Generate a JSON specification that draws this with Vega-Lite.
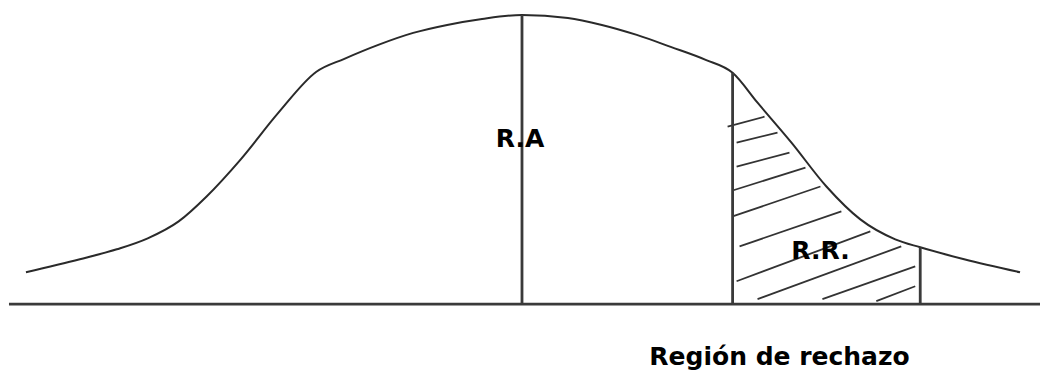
{
  "$schema": "https://vega.github.io/schema/vega-lite/v6.json",
  "width": 1042,
  "height": 370,
  "padding": 0,
  "autosize": {"type": "fit", "contains": "padding"},
  "background": "white",
  "config": {"view": {"stroke": null}},
  "datasets": {
    "curve": [
      {"x": 26, "h": 97}, {"x": 80, "h": 110}, {"x": 117, "h": 120}, {"x": 148, "h": 131},
      {"x": 179, "h": 148}, {"x": 207, "h": 173}, {"x": 241, "h": 210}, {"x": 279, "h": 257},
      {"x": 317, "h": 298}, {"x": 345, "h": 311}, {"x": 379, "h": 325}, {"x": 414, "h": 337},
      {"x": 448, "h": 345}, {"x": 483, "h": 351}, {"x": 523, "h": 355}, {"x": 569, "h": 352},
      {"x": 603, "h": 345}, {"x": 638, "h": 335}, {"x": 672, "h": 323}, {"x": 707, "h": 310},
      {"x": 734, "h": 297}, {"x": 759, "h": 267}, {"x": 793, "h": 227}, {"x": 828, "h": 183},
      {"x": 862, "h": 150}, {"x": 897, "h": 130}, {"x": 922, "h": 122}, {"x": 966, "h": 110},
      {"x": 1022, "h": 97}
    ],
    "frame": [
      {"x": 9, "h": 65, "x2": 1042, "h2": 65},
      {"x": 523, "h": 65, "x2": 523, "h2": 355},
      {"x": 734, "h": 65, "x2": 734, "h2": 297},
      {"x": 922, "h": 65, "x2": 922, "h2": 122}
    ],
    "hatch": [
      {"x": 729, "h": 243, "x2": 766, "h2": 253},
      {"x": 738, "h": 227, "x2": 779, "h2": 237},
      {"x": 738, "h": 203, "x2": 791, "h2": 217},
      {"x": 734, "h": 179, "x2": 807, "h2": 202},
      {"x": 734, "h": 153, "x2": 822, "h2": 183},
      {"x": 741, "h": 123, "x2": 843, "h2": 158},
      {"x": 738, "h": 88, "x2": 872, "h2": 138},
      {"x": 759, "h": 70, "x2": 903, "h2": 123},
      {"x": 824, "h": 70, "x2": 917, "h2": 103},
      {"x": 878, "h": 68, "x2": 917, "h2": 83}
    ],
    "labels": [
      {"x": 521, "h": 223, "text": "R.A", "size": "a"},
      {"x": 822, "h": 110, "text": "R.R.", "size": "b"},
      {"x": 781, "h": 4, "text": "Región de rechazo", "size": "c"}
    ]
  },
  "layer": [
    {
      "data": {"name": "hatch"},
      "mark": {"type": "rule", "color": "#333333", "strokeWidth": 1.8},
      "encoding": {
        "x": {"field": "x", "type": "quantitative", "scale": {"domain": [0, 1042], "nice": false, "zero": false}, "axis": null},
        "y": {"field": "h", "type": "quantitative", "scale": {"domain": [0, 370], "nice": false, "zero": false}, "axis": null},
        "x2": {"field": "x2"},
        "y2": {"field": "h2"}
      }
    },
    {
      "data": {"name": "curve"},
      "mark": {"type": "line", "color": "#2a2a2a", "strokeWidth": 2, "interpolate": "monotone"},
      "encoding": {
        "x": {"field": "x", "type": "quantitative", "scale": {"domain": [0, 1042], "nice": false, "zero": false}, "axis": null},
        "y": {"field": "h", "type": "quantitative", "scale": {"domain": [0, 370], "nice": false, "zero": false}, "axis": null}
      }
    },
    {
      "data": {"name": "frame"},
      "mark": {"type": "rule", "color": "#3a3a3a", "strokeWidth": 2.8},
      "encoding": {
        "x": {"field": "x", "type": "quantitative", "scale": {"domain": [0, 1042], "nice": false, "zero": false}, "axis": null},
        "y": {"field": "h", "type": "quantitative", "scale": {"domain": [0, 370], "nice": false, "zero": false}, "axis": null},
        "x2": {"field": "x2"},
        "y2": {"field": "h2"}
      }
    },
    {
      "data": {"name": "labels"},
      "mark": {"type": "text", "font": "DejaVu Sans", "fontWeight": "bold", "align": "center", "baseline": "alphabetic", "color": "#000000"},
      "encoding": {
        "x": {"field": "x", "type": "quantitative", "scale": {"domain": [0, 1042], "nice": false, "zero": false}, "axis": null},
        "y": {"field": "h", "type": "quantitative", "scale": {"domain": [0, 370], "nice": false, "zero": false}, "axis": null},
        "text": {"field": "text"},
        "size": {"field": "size", "type": "nominal", "scale": {"domain": ["a", "b", "c"], "range": [25, 25, 27]}, "legend": null}
      }
    }
  ]
}
